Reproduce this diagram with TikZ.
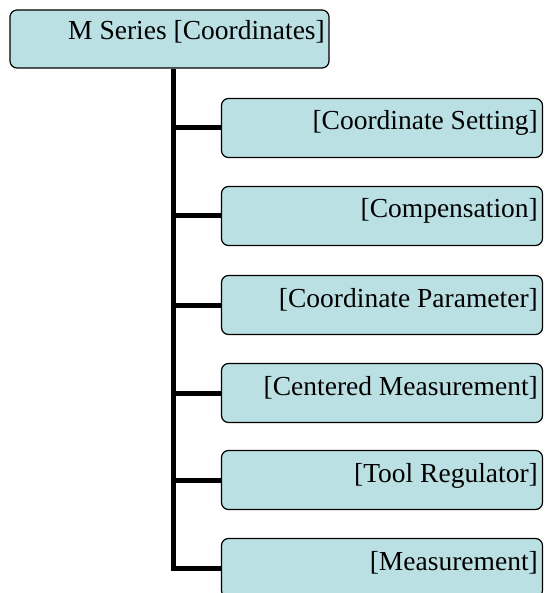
\documentclass[tikz,border=0pt]{standalone}
\usepackage{fontspec}
\setmainfont{Liberation Serif}
\definecolor{boxfill}{HTML}{BAE0E3}
\begin{document}
\begin{tikzpicture}[x=1pt,y=-1pt,
  box/.style={draw=black,line width=1.2pt,fill=boxfill,rounded corners=7pt,
    minimum width=321pt,minimum height=59pt,inner sep=0pt},
  boxtext/.style={anchor=base east,font=\fontsize{27.5}{30}\selectfont,inner sep=0pt},
  conn/.style={line width=5pt}]
\clip (0,0) rectangle (545,593);
\useasboundingbox (0,0) rectangle (545,593);
\node[box,minimum width=319pt,minimum height=58pt] (top) at (169.5,39) {};
\node[boxtext] (toptext) at (325,40) {M Series [Coordinates]};
\foreach \i/\t [count=\k] in {128/{[Coordinate Setting]},216/{[Compensation]},305/{[Coordinate Parameter]},393/{[Centered Measurement]},480/{[Tool Regulator]},568/{[Measurement]}}{
  \node[box] (b\k) at (382,\i) {};
  \node[boxtext] (t\k) at (538,\i+2) {\t};
}
\coordinate (spine) at (173,0);
\draw[conn] (top.south -| spine) -- (b6.west -| spine) -- (b6.west);
\foreach \k in {1,...,5}{
  \draw[conn] (b\k.west -| spine) -- (b\k.west);
}
\end{tikzpicture}
\end{document}
